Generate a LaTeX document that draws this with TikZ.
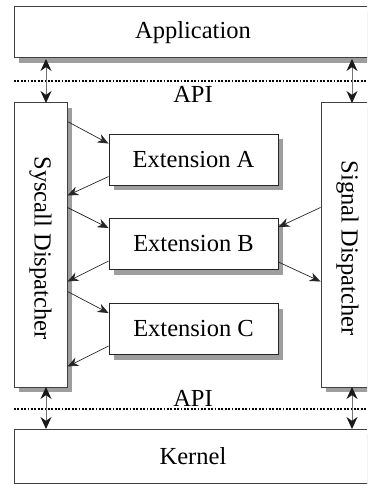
\documentclass[tikz,border=0pt]{standalone}
\usepackage{fontspec}
\setmainfont{Liberation Serif}
\usetikzlibrary{arrows.meta,shadows,calc}
\begin{document}
\begin{tikzpicture}[x=1pt,y=-1pt,
  font=\fontsize{24.5}{28}\selectfont,
  outerbox/.style={draw=black!75,line width=1pt,fill=white,rectangle,inner sep=0pt,
    drop shadow={shadow xshift=5pt,shadow yshift=-5pt,opacity=1,fill=black!38}},
  extbox/.style={draw=black!85,line width=0.9pt,fill=white,rectangle,inner sep=0pt,
    minimum width=169pt,minimum height=51pt,
    drop shadow={shadow xshift=5pt,shadow yshift=-5pt,opacity=1,fill=black!38}},
  flow/.style={draw=black!85,line width=0.7pt,-{Stealth[length=11pt,width=9pt]}},
  dbl/.style={draw=black!55,line width=0.9pt,
    {Stealth[length=12pt,width=11pt,black!90]}-{Stealth[length=12pt,width=11pt,black!90]}},
  apiline/.style={draw=black,line width=1.6pt,dash pattern=on 1.8pt off 1.6pt}]
\useasboundingbox (0,0) rectangle (367,484);
\clip (0,0) rectangle (367,484);
% outer boxes
\node[outerbox,minimum width=358pt,minimum height=51pt] (app) at (193,32.5) {Application};
\node[outerbox,minimum width=358pt,minimum height=54pt] (kern) at (193,456) {Kernel};
\node[outerbox,minimum width=53pt,minimum height=284pt] (sys) at (40.5,245) {};
\node[rotate=-90] (systxt) at ($(sys.center)+(0,3)$) {Syscall Dispatcher};
\node[outerbox,minimum width=53pt,minimum height=284pt] (sig) at (347.5,245) {};
\node[rotate=-90] (sigtxt) at ($(sig.center)+(0,3)$) {Signal Dispatcher};
% extension boxes
\node[extbox] (exa) at (193.5,159.5) {Extension A};
\node[extbox] (exb) at (193.5,244) {Extension B};
\node[extbox] (exc) at (193.5,329) {Extension C};
% API lines
\coordinate (apil1) at (14,81);
\coordinate (apir1) at (367,81);
\coordinate (apil2) at (14,409);
\coordinate (apir2) at (367,409);
\draw[apiline] (apil1) -- (apir1);
\draw[apiline] (apil2) -- (apir2);
\node (api1) at (193,94) {API};
\node (api2) at (193,398) {API};
% double arrows
\draw[dbl] (46,59) coordinate (d1a) -- (46,103) coordinate (d1b);
\draw[dbl] (352,59) coordinate (d2a) -- (352,103) coordinate (d2b);
\draw[dbl] (46,387) coordinate (d3a) -- (46,429) coordinate (d3b);
\draw[dbl] (352,387) coordinate (d4a) -- (352,429) coordinate (d4b);
% flows
\draw[flow] ($(sys.north east)+(0,19)$) -- ($(exa.north west)+(0,10)$);
\draw[flow] ($(exa.north west)+(0,43)$) -- ($(sys.north east)+(0,93)$);
\draw[flow] ($(sys.north east)+(0,105)$) -- ($(exb.north west)+(0,10)$);
\draw[flow] ($(sig.north west)+(0,105)$) -- ($(exb.north east)+(0,9)$);
\draw[flow] ($(exb.north west)+(0,43)$) -- ($(sys.north east)+(0,179)$);
\draw[flow] ($(exb.north east)+(0,44)$) -- ($(sig.north west)+(0,179)$);
\draw[flow] ($(sys.north east)+(0,189)$) -- ($(exc.north west)+(0,10)$);
\draw[flow] ($(exc.north west)+(0,43)$) -- ($(sys.north east)+(0,264)$);
\end{tikzpicture}
\end{document}
